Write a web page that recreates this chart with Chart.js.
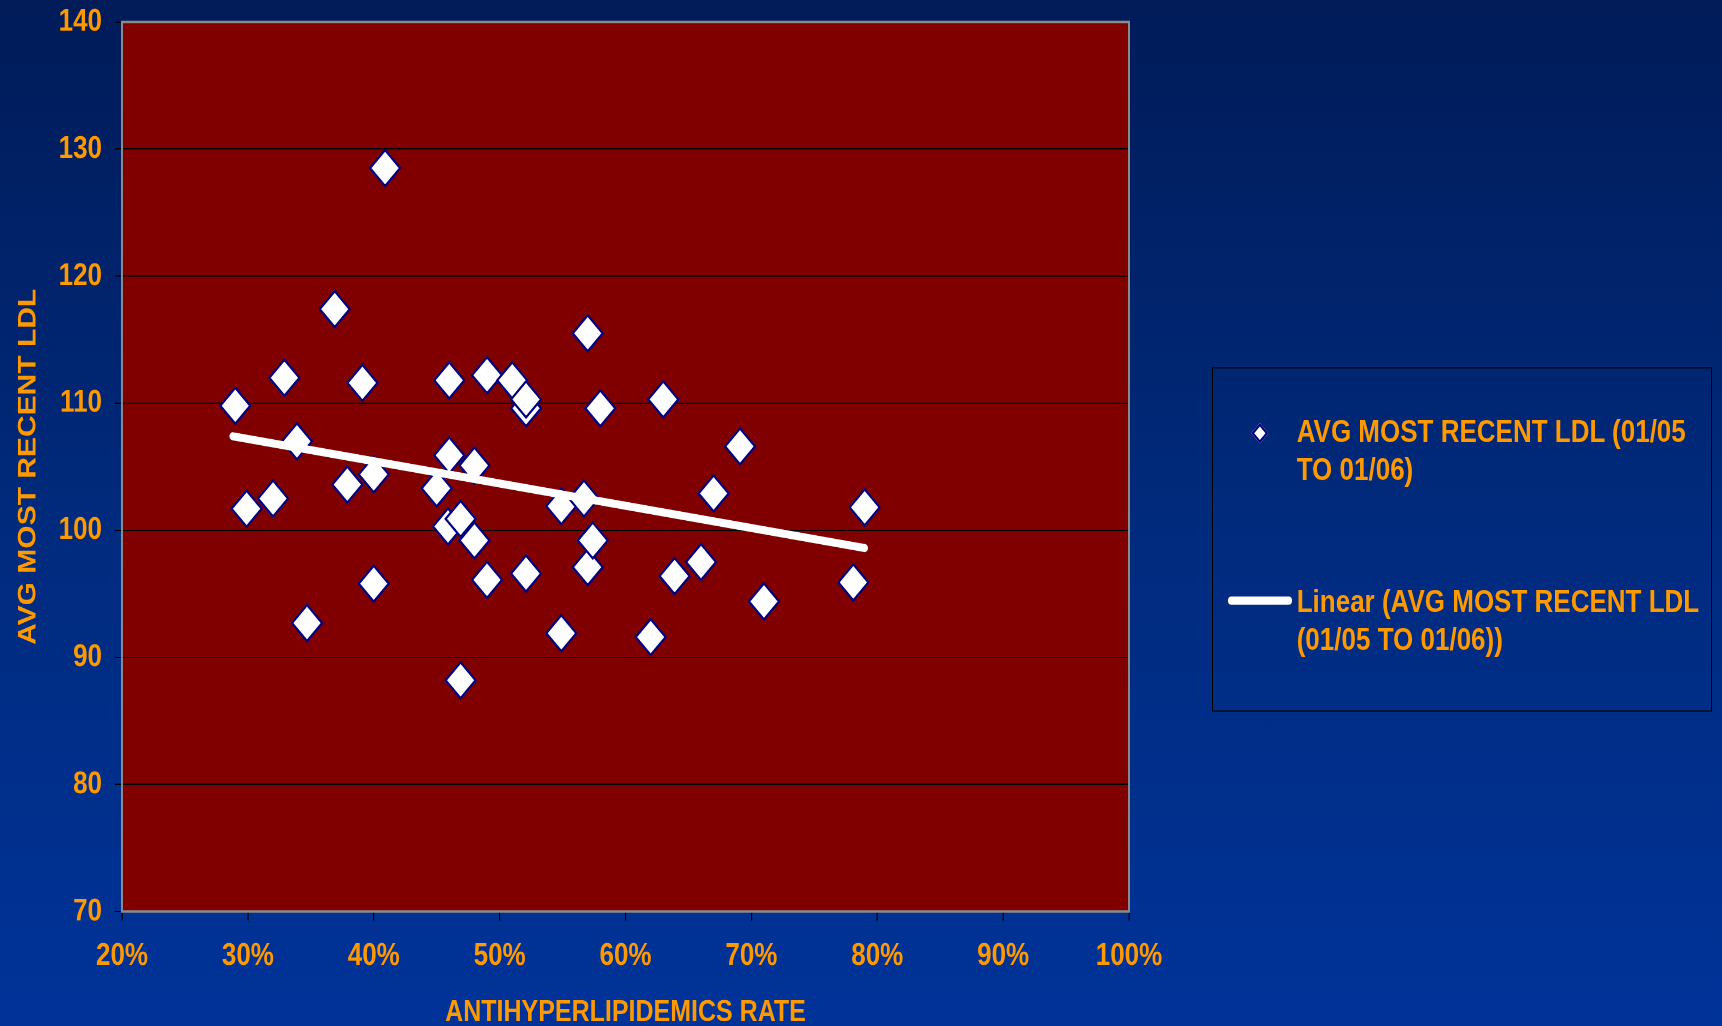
<!DOCTYPE html>
<html>
<head>
<meta charset="utf-8">
<script src="https://cdn.jsdelivr.net/npm/chart.js@4.4.1/dist/chart.umd.min.js"></script>
<style>
  html, body {
    margin: 0; padding: 0; width: 1722px; height: 1026px; overflow: hidden;
    background: linear-gradient(to bottom, #001b58 0%, #002a7c 50%, #003399 100%);
  }
  /* whole slide is laid out at 855px tall and stretched to 1026px */
  #stage { position: absolute; left: 0; top: 0; width: 1722px; height: 855px;
           transform: scaleY(1.2); transform-origin: 0 0; }
  #chartBox { position: absolute; left: 0; top: 0; width: 1722px; height: 855px; }
  .legend-box { position: absolute; left: 1211.5px; top: 306px; width: 500.5px; height: 286.5px;
                border: 1px solid #000; box-sizing: border-box; }
  .legend-text { position: absolute; left: 1296.7px; font: bold 26px 'Liberation Sans', Arial, sans-serif;
                 color: #ff9900; line-height: 32.3px; white-space: nowrap; }
  .legend-marker { position: absolute; left: 1254.15px; top: 354.75px; width: 11.7px; height: 11.7px;
                   background: #fff; border: 2px solid #000080; box-sizing: border-box; transform: rotate(45deg); }
  .legend-line { position: absolute; left: 1228px; top: 497.45px; width: 64px; height: 6.7px;
                 background: #fff; border-radius: 3.35px; }
</style>
</head>
<body>
<div id="stage">
  <div id="chartBox"><canvas id="chart"></canvas></div>
  <div class="legend-box"></div>
  <div class="legend-marker"></div>
  <div class="legend-text" id="leg1" style="top:342.8px"></div>
  <div class="legend-line"></div>
  <div class="legend-text" id="leg2" style="top:484.5px"></div>
</div>
<script>
// Antihyperlipidemics rate (%) per practice
const rateX = [29.0, 29.9, 32.0, 32.9, 33.9, 34.7, 36.9, 37.9, 39.1, 40.0, 40.0, 40.9,
               45.0, 46.0, 46.0, 45.9, 46.9, 46.9, 48.0, 48.0, 49.0, 49.0, 51.0, 52.1,
               52.1, 52.1, 54.9, 54.9, 56.7, 57.0, 57.0, 57.4, 58.0, 62.0, 63.0, 63.9,
               66.0, 67.0, 69.1, 71.0, 78.1, 79.0];
// Average most recent LDL for the same practices
const ldlY = [109.8, 101.7, 102.5, 112.0, 107.0, 92.7, 117.4, 103.6, 111.6, 104.4, 95.8, 128.5,
              103.3, 111.8, 105.9, 100.3, 100.9, 88.2, 105.1, 99.2, 112.2, 96.1, 111.8, 109.6,
              110.3, 96.6, 101.9, 91.9, 102.5, 115.5, 97.1, 99.2, 109.6, 91.6, 110.3, 96.4,
              97.5, 102.9, 106.6, 94.4, 95.9, 101.8];
// Linear trend endpoints
const trendX = [28.8, 79.0];
const trendY = [107.4, 98.6];

const xTickLabels = ['20%', '30%', '40%', '50%', '60%', '70%', '80%', '90%', '100%'];
const yTickLabels = ['70', '80', '90', '100', '110', '120', '130', '140'];

const seriesName = 'AVG MOST RECENT LDL (01/05 TO 01/06)';
const trendName = 'Linear (AVG MOST RECENT LDL (01/05 TO 01/06))';
const xTitle = 'ANTIHYPERLIPIDEMICS RATE';
const yTitle = 'AVG MOST RECENT LDL';

document.getElementById('leg1').innerHTML = 'AVG MOST RECENT LDL (01/05<br>TO 01/06)';
document.getElementById('leg2').innerHTML = 'Linear (AVG MOST RECENT LDL<br>(01/05 TO 01/06))';

const orange = '#ff9900';
const fontFamily = "'Liberation Sans', Arial, sans-serif";

const plotFrame = {
  id: 'plotFrame',
  beforeDraw(chart) {
    const { ctx, chartArea: a } = chart;
    ctx.save();
    ctx.fillStyle = '#800000';
    ctx.fillRect(a.left, a.top, a.right - a.left, a.bottom - a.top);
    ctx.restore();
  },
  beforeDatasetsDraw(chart) {
    const { ctx, chartArea: a } = chart;
    ctx.save();
    ctx.strokeStyle = '#8a8a8a';
    ctx.lineWidth = 2;
    ctx.strokeRect(a.left, a.top, a.right - a.left, a.bottom - a.top);
    ctx.restore();
  }
};

new Chart(document.getElementById('chart'), {
  type: 'scatter',
  data: {
    datasets: [
      {
        type: 'line',
        label: trendName,
        data: trendX.map((x, i) => ({ x, y: trendY[i] })),
        borderColor: '#ffffff',
        borderWidth: 6.7,
        borderCapStyle: 'round',
        pointRadius: 0,
        fill: false,
        order: 0
      },
      {
        label: seriesName,
        data: rateX.map((x, i) => ({ x, y: ldlY[i] })),
        pointStyle: 'rectRot',
        pointRadius: 15,
        pointHoverRadius: 15,
        backgroundColor: '#ffffff',
        borderColor: '#000080',
        borderWidth: 2,
        order: 1
      }
    ]
  },
  options: {
    responsive: true,
    maintainAspectRatio: false,
    devicePixelRatio: 2,
    animation: false,
    layout: { padding: { top: 18.3, right: 593, bottom: 0, left: 0 } },
    plugins: { legend: { display: false }, tooltip: { enabled: false } },
    scales: {
      x: {
        type: 'linear',
        min: 20, max: 100,
        afterFit(scale) { scale.height = 95.4; },
        border: { display: false },
        grid: { drawOnChartArea: false, drawTicks: true, tickLength: 7.5, tickColor: '#000', lineWidth: 1.2 },
        ticks: {
          stepSize: 10, padding: 14, color: orange,
          font: { family: fontFamily, size: 26, weight: 'bold' },
          callback: (v) => xTickLabels[Math.round((v - 20) / 10)]
        },
        title: {
          display: true, text: xTitle, color: orange,
          font: { family: fontFamily, size: 25, weight: 'bold' },
          padding: { top: 0, bottom: -4 }
        }
      },
      y: {
        type: 'linear',
        min: 70, max: 140,
        afterFit(scale) { scale.width = 122; scale.paddingTop = 0; scale.paddingBottom = 0; },
        border: { display: false },
        grid: { color: '#000', lineWidth: 1, drawTicks: true, tickLength: 7, tickColor: '#000' },
        ticks: {
          stepSize: 10, padding: 13, color: orange,
          font: { family: fontFamily, size: 26, weight: 'bold' },
          callback: (v) => yTickLabels[Math.round((v - 70) / 10)]
        },
        title: {
          display: true, text: yTitle, color: orange,
          font: { family: fontFamily, size: 25, weight: 'bold' },
          padding: { top: 13.5, bottom: 0 }
        }
      }
    }
  },
  plugins: [plotFrame]
});
</script>
</body>
</html>
